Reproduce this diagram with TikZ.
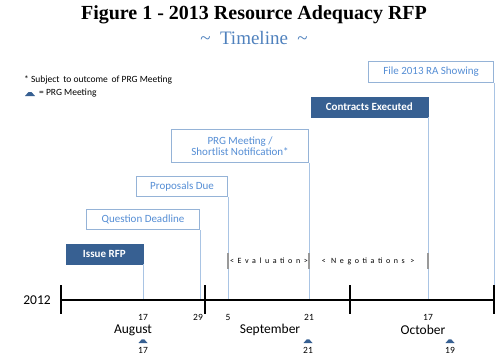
\documentclass[tikz,border=0pt]{standalone}
\usepackage{fontspec}
\setmainfont{Carlito}
\newfontfamily\titlefont{Liberation Serif}
\newfontfamily\spacedfont[LetterSpace=45]{Carlito}
\definecolor{boxline}{HTML}{95B3D7}
\definecolor{boxtext}{HTML}{558ED5}
\definecolor{darkfill}{HTML}{376092}
\definecolor{connline}{HTML}{A9C4E4}
\definecolor{subblue}{HTML}{4F81BD}
\tikzset{
  evbox/.style={draw=boxline, line width=0.9pt, fill=white, text=boxtext, inner sep=0pt,
    font=\fontsize{11}{12.5}\selectfont, align=center},
  darkbox/.style={draw=darkfill, fill=darkfill, text=white, inner sep=0pt,
    font=\fontsize{11}{12.5}\selectfont\bfseries, align=center},
  conn/.style={draw=connline, line width=0.8pt},
  axisline/.style={line width=2.6pt, black},
  tickline/.style={line width=1.8pt, black},
  graymark/.style={draw=gray!80, line width=1.4pt},
  daylabel/.style={font=\fontsize{9.5}{11}\selectfont, inner sep=0pt},
  monthlabel/.style={font=\fontsize{13.5}{15}\selectfont, inner sep=0pt},
  prgmark/.style={fill=darkfill, draw=none},
  phase/.style={font=\spacedfont\fontsize{8}{9}\selectfont, inner sep=0pt}
}
\begin{document}
\begin{tikzpicture}[x=1pt,y=-1pt]
\useasboundingbox (0,0) rectangle (500,362);
% title
\node[font=\titlefont\bfseries\fontsize{20}{23}\selectfont, inner sep=0pt] (title) at (254,15) {Figure 1 - 2013 Resource Adequacy RFP};
\node[font=\titlefont\fontsize{19}{21}\selectfont, text=subblue, inner sep=0pt] (sub) at (254,38) {\textasciitilde{}\enspace Timeline\enspace \textasciitilde{}};
% legend
\node[font=\fontsize{9.5}{11}\selectfont, anchor=west, inner sep=0pt] (note) at (24,80) {* Subject\, to outcome\, of PRG Meeting};
\fill[prgmark] (25,96) -- (28.5,92) .. controls (29.5,91.2) and (30.5,91.2) .. (31.5,92) -- (35,96) -- cycle;
\node[font=\fontsize{9.5}{11}\selectfont, anchor=west, inner sep=0pt] (leg) at (39,93.5) {= PRG Meeting};
% axis coordinates
\coordinate (aL) at (61,300);
\coordinate (aR) at (495,300);
\coordinate (a17) at (143,300);
\coordinate (a29) at (200,300);
\coordinate (a5) at (228,300);
\coordinate (a21) at (309,300);
\coordinate (o17) at (428,300);
\coordinate (oEnd) at (494,300);
% boxes
\node[evbox, minimum width=125pt, minimum height=21pt, anchor=south east] (file) at (494,83) {File 2013 RA Showing};
\node[darkbox, minimum width=117pt, minimum height=20pt, anchor=south east] (contracts) at (428,117) {Contracts Executed};
\node[evbox, minimum width=137pt, minimum height=33pt, anchor=south east] (prg) at (309,163) {PRG Meeting /\\[-1pt]Shortlist Notification*};
\node[evbox, minimum width=91pt, minimum height=20pt, anchor=south east] (prop) at (228,197) {Proposals Due};
\node[evbox, minimum width=113pt, minimum height=20pt, anchor=south east] (quest) at (200,230) {Question Deadline};
\node[darkbox, minimum width=77pt, minimum height=20pt, anchor=south east] (issue) at (143,264) {Issue RFP};
% connectors
\draw[conn] (file.south east) -- (oEnd);
\draw[conn] (contracts.south east) -- (o17);
\draw[conn] (prg.south east) -- (a21);
\draw[conn] (prop.south east) -- (a5);
\draw[conn] (quest.south east) -- (a29);
\draw[conn] (issue.south east) -- (a17);
% phase marks
\draw[graymark] (228,253) -- (228,269);
\draw[graymark] (309,253) -- (309,269);
\draw[graymark] (428,253) -- (428,269);
\node[phase] (eval) at (269,261) {<Evaluation>};
\node[phase] (nego) at (368,261) {< Negotiations >};
% axis
\draw[axisline] (aL) -- (aR);
\draw[tickline] (61,285) -- (61,314);
\draw[tickline] (205,285) -- (205,314);
\draw[tickline] (350,285) -- (350,314);
\draw[tickline] (494,285) -- (494,314);
\node[font=\fontsize{13.5}{15}\selectfont, inner sep=0pt] (year) at (37,300) {2012};
% day labels
\node[daylabel] (d17) at (143,317) {17};
\node[daylabel] (d29) at (198,317) {29};
\node[daylabel] (d5) at (228,317) {5};
\node[daylabel] (d21) at (309,317) {21};
\node[daylabel] (d17o) at (428,317) {17};
% months
\node[monthlabel] (aug) at (133,330) {August};
\node[monthlabel] (sep) at (270,330) {September};
\node[monthlabel] (oct) at (423,330) {October};
% PRG meeting markers
\foreach \x/\d/\n in {143/17/m1, 308/21/m2, 450/19/m3} {
  \fill[prgmark] (\x-4.5,343) -- (\x-1.2,339.3) .. controls (\x-0.5,338.6) and (\x+0.5,338.6) .. (\x+1.2,339.3) -- (\x+4.5,343) -- cycle;
  \node[daylabel] (\n) at (\x,350.5) {\d};
}
\end{tikzpicture}
\end{document}
